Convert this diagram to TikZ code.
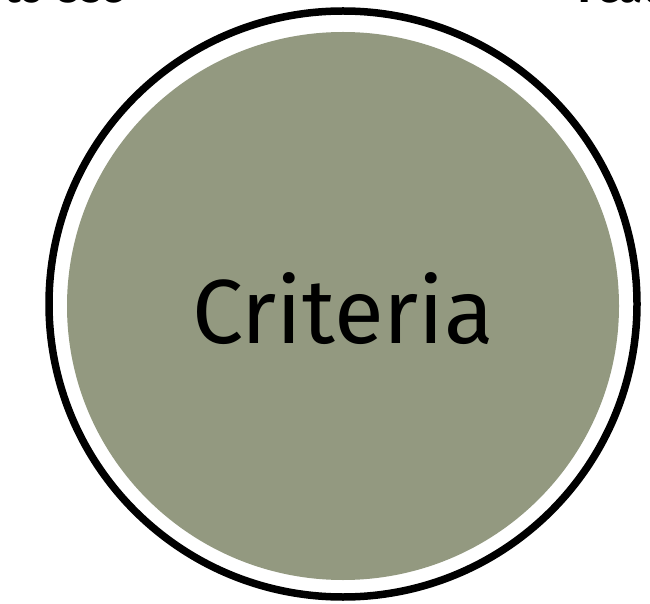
\documentclass[tikz,border=0pt]{standalone}
\usepackage{fontspec}
\setmainfont{Fira Sans}
\definecolor{sage}{HTML}{939980}
\begin{document}
\begin{tikzpicture}[x=1pt,y=1pt,
  ring/.style={draw=black,line width=7.5pt},
  blob/.style={fill=sage},
  toplabel/.style={font=\fontsize{42}{50}\selectfont\bfseries,inner sep=0pt}]
\useasboundingbox (0,0) rectangle (650,603);
\fill[white] (0,0) rectangle (650,603);
\draw[ring] (343,299) circle [x radius=294, y radius=293];
\fill[blob] (343,297) circle [x radius=276, y radius=274];
\node[font=\fontsize{91}{100}\selectfont,inner sep=0pt,anchor=base] (crit) at (343,260) {Criteria};
\node[toplabel,anchor=base east] (easy) at (125,600) {Easy to Use};
\node[toplabel,anchor=base west] (feat) at (578,600) {Features};
\end{tikzpicture}
\end{document}
